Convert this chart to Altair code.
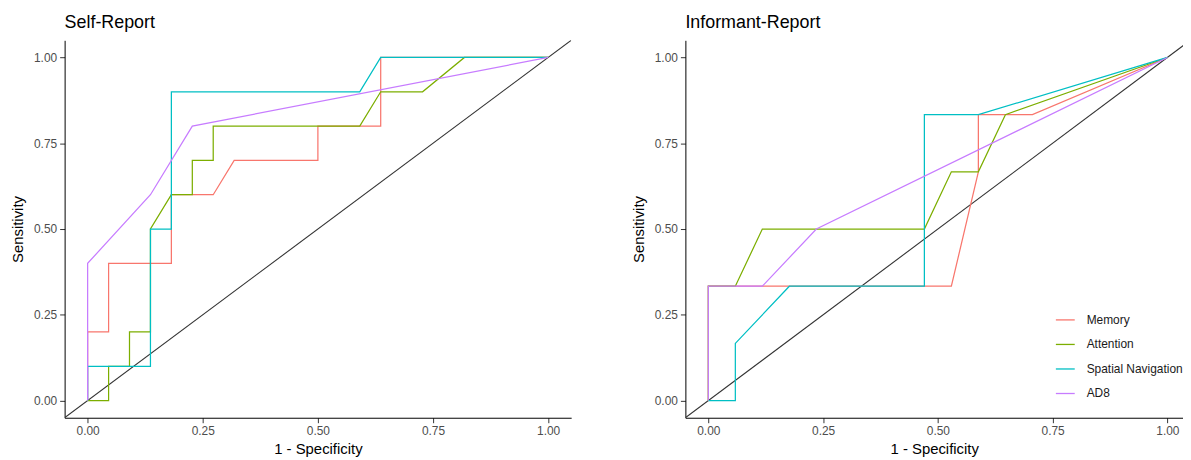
import altair as alt
import pandas as pd

SERIES = ["Memory", "Attention", "Spatial Navigation", "AD8"]
COLORS = ["#F8766D", "#7CAE00", "#00BFC4", "#C77CFF"]
TICKS = [0.0, 0.25, 0.5, 0.75, 1.0]
PANEL_TITLES = ["Self-Report", "Informant-Report"]

# ---- Self-Report ROC curves (x = 1 - specificity, y = sensitivity) ----
self_memory_x = [0, 0, 0.0455, 0.0455, 0.1818, 0.1818, 0.2727, 0.3182, 0.5, 0.5, 0.6364, 0.6364, 1.0]
self_memory_y = [0, 0.2, 0.2, 0.4, 0.4, 0.6, 0.6, 0.7, 0.7, 0.8, 0.8, 1.0, 1.0]

self_attention_x = [0, 0.0455, 0.0455, 0.0909, 0.0909, 0.1364, 0.1364, 0.1818, 0.2273, 0.2273,
                    0.2727, 0.2727, 0.5909, 0.6364, 0.7273, 0.8182, 1.0]
self_attention_y = [0, 0, 0.1, 0.1, 0.2, 0.2, 0.5, 0.6, 0.6, 0.7, 0.7, 0.8, 0.8, 0.9, 0.9, 1.0, 1.0]

self_spatial_x = [0, 0, 0.1364, 0.1364, 0.1818, 0.1818, 0.5909, 0.6364, 1.0]
self_spatial_y = [0, 0.1, 0.1, 0.5, 0.5, 0.9, 0.9, 1.0, 1.0]

self_ad8_x = [0, 0, 0.1364, 0.2273, 1.0]
self_ad8_y = [0, 0.4, 0.6, 0.8, 1.0]

# ---- Informant-Report ROC curves ----
inf_memory_x = [0, 0, 0.5294, 0.5882, 0.5882, 0.7059, 1.0]
inf_memory_y = [0, 0.3333, 0.3333, 0.6667, 0.8333, 0.8333, 1.0]

inf_attention_x = [0, 0, 0.0588, 0.1176, 0.4706, 0.5294, 0.5882, 0.6471, 1.0]
inf_attention_y = [0, 0.3333, 0.3333, 0.5, 0.5, 0.6667, 0.6667, 0.8333, 1.0]

inf_spatial_x = [0, 0.0588, 0.0588, 0.1765, 0.4706, 0.4706, 0.5882, 1.0]
inf_spatial_y = [0, 0, 0.1667, 0.3333, 0.3333, 0.8333, 0.8333, 1.0]

inf_ad8_x = [0, 0, 0.1176, 0.2353, 1.0]
inf_ad8_y = [0, 0.3333, 0.3333, 0.5, 1.0]

diag_vals = [-0.05, 1.05]

FONT = "Liberation Sans"


def build_df(curves):
    rows = []
    for name, (xs, ys) in zip(SERIES, curves):
        for i, (a, b) in enumerate(zip(xs, ys)):
            rows.append({"fpr": a, "tpr": b, "series": name, "ord": i})
    return pd.DataFrame(rows)


self_df = build_df([(self_memory_x, self_memory_y), (self_attention_x, self_attention_y),
                    (self_spatial_x, self_spatial_y), (self_ad8_x, self_ad8_y)])
inf_df = build_df([(inf_memory_x, inf_memory_y), (inf_attention_x, inf_attention_y),
                   (inf_spatial_x, inf_spatial_y), (inf_ad8_x, inf_ad8_y)])
diag_df = pd.DataFrame({"fpr": diag_vals, "tpr": diag_vals})


def panel(df, title, xmax, width, legend):
    xs = alt.Scale(domain=[-0.05, xmax], nice=False, zero=False)
    ys = alt.Scale(domain=[-0.05, 1.05], nice=False, zero=False)
    xax = alt.Axis(values=TICKS, format=".2f", title="1 - Specificity")
    yax = alt.Axis(values=TICKS, format=".2f", title="Sensitivity")
    diag = alt.Chart(diag_df).mark_line(clip=True, color="#333333", strokeWidth=1.1).encode(
        x=alt.X("fpr:Q", scale=xs, axis=xax),
        y=alt.Y("tpr:Q", scale=ys, axis=yax),
    )
    if legend:
        leg = alt.Legend(title=None, orient="none", legendX=372, legendY=271,
                         symbolType="stroke", symbolSize=361, symbolStrokeWidth=1.3,
                         labelFontSize=12, labelFont=FONT, labelColor="#1a1a1a",
                         rowPadding=7.7, labelOffset=11, padding=0, labelLimit=200)
    else:
        leg = None
    lines = alt.Chart(df).mark_line(clip=True, strokeWidth=1.25).encode(
        x=alt.X("fpr:Q", scale=xs, axis=xax),
        y=alt.Y("tpr:Q", scale=ys, axis=yax),
        color=alt.Color("series:N", scale=alt.Scale(domain=SERIES, range=COLORS), legend=leg),
        order=alt.Order("ord:Q"),
    )
    return alt.layer(diag, lines).properties(
        width=width, height=380,
        title=alt.Title(title, anchor="start", frame="group", fontSize=18, fontWeight="normal",
                        font=FONT, color="black", offset=8),
    )


left = panel(self_df, PANEL_TITLES[0], 1.05, 510, False)
right = panel(inf_df, PANEL_TITLES[1], 1.034, 501, True)

chart = alt.hconcat(left, right, spacing=115, bounds="flush").resolve_scale(
    color="independent"
).resolve_legend(color="independent").properties(
    padding={"left": 2, "top": 5, "right": 0, "bottom": 0}
).configure_view(stroke=None).configure_axis(
    grid=False, domainColor="black", domainWidth=1, tickColor="#333333", tickSize=5,
    labelColor="#4D4D4D", labelFontSize=12, labelFont=FONT, labelPadding=3,
    titleFont=FONT, titleFontSize=15, titleFontWeight="normal", titleColor="black",
).configure_axisY(titlePadding=8).configure_axisX(titlePadding=5)

chart.save("out.html", embed_options={"renderer": "svg", "actions": False})
